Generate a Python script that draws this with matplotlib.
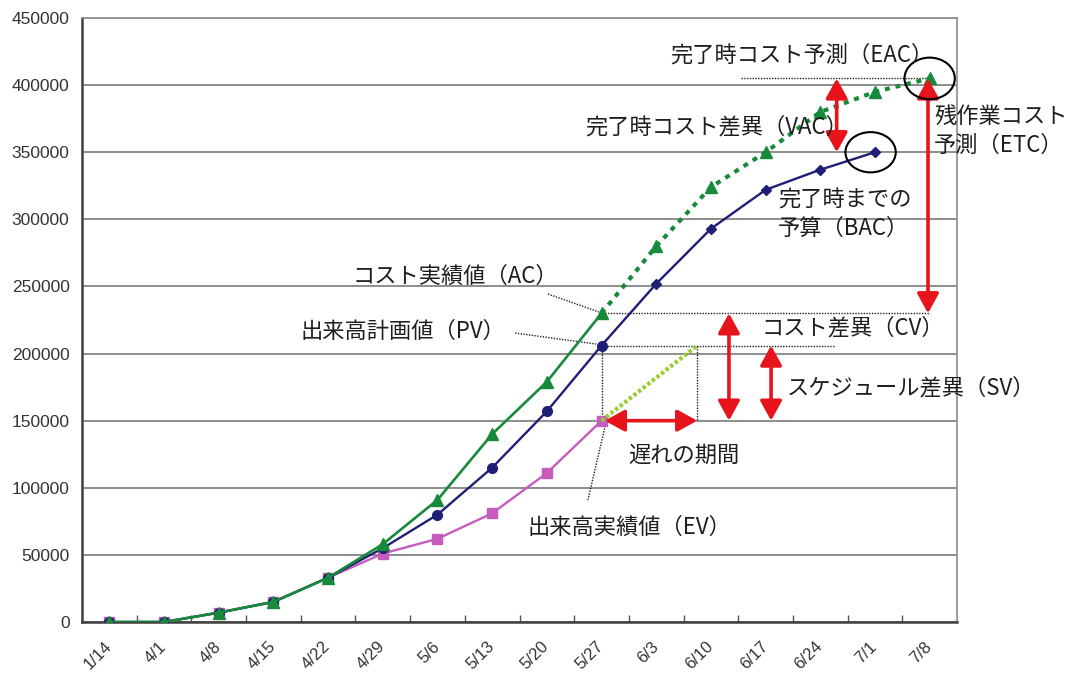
import matplotlib
matplotlib.use('Agg')
import matplotlib.pyplot as plt
from matplotlib.patches import Ellipse
from matplotlib.transforms import ScaledTranslation

plt.rcParams['font.family'] = ['Noto Sans CJK JP', 'DejaVu Sans']

# weekly report dates
dates = ['1/14', '4/1', '4/8', '4/15', '4/22', '4/29', '5/6', '5/13',
         '5/20', '5/27', '6/3', '6/10', '6/17', '6/24', '7/1', '7/8']

# planned value (PV), up to the end of the plan (BAC)
pv = [0, 0, 7000, 15000, 33000, 55000, 80000, 115000, 157000, 206000,
      252000, 293000, 322000, 337000, 350000]
# actual cost (AC) up to the status date
ac = [0, 0, 7000, 15000, 33000, 58000, 91000, 140000, 179000, 230000]
# forecast of AC from the status date to completion (EAC)
ac_forecast = [230000, 280000, 324000, 350000, 380000, 395000, 405000]
# earned value (EV) up to the status date
ev = [0, 0, 7000, 15000, 33000, 51000, 62000, 81000, 111000, 150000]

now = len(ev) - 1          # status date index (5/27)
delay_end = 10.75          # where EV would meet the planned value

NAVY = '#1f1f78'
GREEN = '#178a3c'
MAGENTA = '#c65cbc'
LIME = '#9acd32'
RED = '#e8141c'
DOT = '#222222'

fig = plt.figure(figsize=(10.67, 6.75), dpi=100)
ax = fig.add_axes([0.0769, 0.0785, 0.82, 0.8948])
ax.set_xlim(-0.5, 15.5)
ax.set_ylim(0, 450000)

ax.set_yticks(range(0, 450001, 50000))
ax.set_yticklabels([str(v) for v in range(0, 450001, 50000)],
                   fontfamily='Liberation Sans', fontsize=12.5, color='#333333')
ax.tick_params(axis='y', length=0, pad=9)
ax.yaxis.grid(True, color='#858585', lw=1.3)
ax.set_axisbelow(True)

ax.set_xticks(range(len(dates)))
ax.set_xticklabels(dates, rotation=45, ha='right', va='top', rotation_mode='anchor',
                   fontfamily='Liberation Sans', fontsize=12, color='#333333')
ax.set_xticks([i - 0.5 for i in range(1, len(dates))], minor=True)
ax.tick_params(axis='x', which='major', length=0, pad=12)
ax.tick_params(axis='x', which='minor', direction='in', length=5, width=1, color='#555555')
shift = ScaledTranslation(-4 / 72, 0, fig.dpi_scale_trans)
for lab in ax.get_xticklabels():
    lab.set_transform(lab.get_transform() + shift)

for side in ['left', 'bottom']:
    ax.spines[side].set_color('#404040')
    ax.spines[side].set_linewidth(1.8)
for side in ['top', 'right']:
    ax.spines[side].set_color('#8c8c8c')
    ax.spines[side].set_linewidth(1.2)

# series
ax.plot(range(len(ev)), ev, color=MAGENTA, lw=1.7, marker='s', ms=7, mec=MAGENTA, zorder=3)
ax.plot(range(len(pv)), pv, color=NAVY, lw=1.7, zorder=4)
ax.plot(range(now + 1), pv[:now + 1], ls='none', marker='o', ms=7, color=NAVY, zorder=4)
ax.plot(range(now + 1, len(pv)), pv[now + 1:], ls='none', marker='D', ms=5.5, color=NAVY, zorder=4)
ax.plot(range(len(ac)), ac, color=GREEN, lw=1.9, marker='^', ms=9, mec=GREEN, zorder=5)
ax.plot(range(now, now + len(ac_forecast)), ac_forecast, color=GREEN, lw=3,
        ls=(0, (1.2, 1.4)), zorder=5)
ax.plot(range(now + 1, now + len(ac_forecast)), ac_forecast[1:], ls='none',
        marker='^', ms=8, color=GREEN, zorder=5)

ev_now, pv_now, ac_now = ev[now], pv[now], ac[now]
bac, eac = pv[-1], ac_forecast[-1]
end = now + len(ac_forecast) - 1

# schedule slip guide
ax.plot([now, delay_end], [ev_now, pv_now], color=LIME, lw=3, ls=(0, (0.8, 0.6)), zorder=3)

# dotted guide lines
dot = dict(color=DOT, lw=1, ls=(0, (1, 1)), zorder=2)
ax.plot([now, end], [ac_now, ac_now], **dot)
ax.plot([now, 13.27], [pv_now, pv_now], **dot)
ax.plot([now, now], [pv_now, ev_now], **dot)
ax.plot([delay_end, delay_end], [pv_now, ev_now], **dot)
ax.plot([11.55, end], [eac, eac], **dot)
# label leaders
ax.plot([8.02, 8.95], [244400, 231000], **dot)
ax.plot([7.42, 8.9], [215300, 207100], **dot)
ax.plot([9.08, 8.75], [148300, 90900], **dot)


def red_arrow(x0, y0, x1, y1):
    ax.annotate('', xy=(x1, y1), xytext=(x0, y0),
                arrowprops=dict(arrowstyle='<|-|>,head_length=0.4,head_width=0.22',
                                mutation_scale=30, color=RED, lw=2.6,
                                shrinkA=0, shrinkB=0),
                zorder=6)


red_arrow(13.3, eac, 13.3, bac)           # VAC
red_arrow(14.97, eac, 14.97, ac_now)      # ETC
red_arrow(11.33, ac_now, 11.33, ev_now)   # CV
red_arrow(12.1, pv_now, 12.1, ev_now)     # SV
red_arrow(now + 0.06, ev_now, delay_end, ev_now)  # delay

ax.add_patch(Ellipse((end, eac), 0.92, 31000, fill=False, ec='black', lw=1.5,
                     clip_on=False, zorder=7))
ax.add_patch(Ellipse((13.92, bac), 0.92, 30000, fill=False, ec='black', lw=1.5,
                     clip_on=False, zorder=7))

txt = dict(fontsize=16, color='#1e1e1e', ha='left', va='center', zorder=8)
ax.text(10.25, 422400, '完了時コスト予測（EAC）', **txt)
ax.text(8.70, 368800, '完了時コスト差異（VAC）', **txt)
ax.text(15.08, 366000, '残作業コスト\n予測（ETC）', linespacing=1.3, **txt)
ax.text(12.23, 303500, '完了時までの\n予算（BAC）', linespacing=1.3, **txt)
ax.text(4.44, 257800, 'コスト実績値（AC）', **txt)
ax.text(3.49, 216800, '出来高計画値（PV）', **txt)
ax.text(11.93, 219000, 'コスト差異（CV）', **txt)
ax.text(12.39, 174300, 'スケジュール差異（SV）', **txt)
ax.text(9.48, 124400, '遅れの期間', **txt)
ax.text(7.64, 70800, '出来高実績値（EV）', **txt)

fig.savefig('out.png', dpi=100)
